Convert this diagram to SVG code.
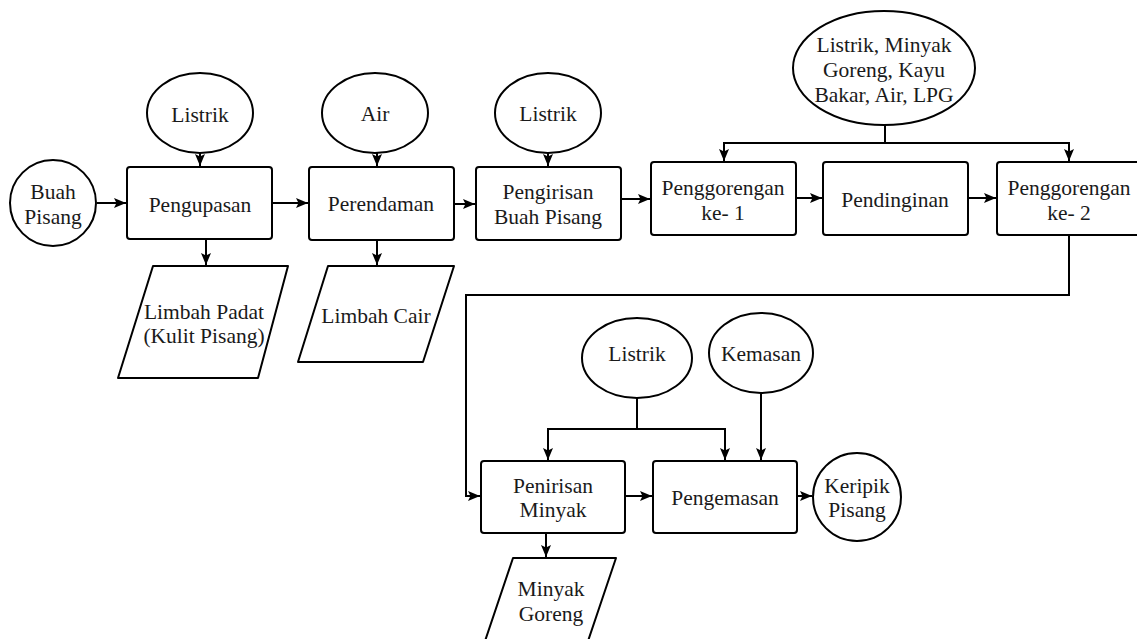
<svg xmlns="http://www.w3.org/2000/svg" width="1137" height="639" viewBox="0 0 1137 639" font-family="Liberation Serif, DejaVu Serif, serif">
<style>
.s{fill:#fff;stroke:#000;stroke-width:2;stroke-linejoin:round}
.t{font-size:21.5px;fill:#1a1a1a;text-anchor:middle}
.c{fill:none;stroke:#000;stroke-width:2}
</style>
<defs>
<marker id="ah" viewBox="0 0 12 10" refX="12" refY="5" markerWidth="12" markerHeight="10" markerUnits="userSpaceOnUse" orient="auto">
<path d="M0,0 L12,5 L0,10 L2.5,5 Z" fill="#000"/>
</marker>
</defs>
<rect width="1137" height="639" fill="#fff"/>
<g id="connectors">
<path class="c" d="M97,203 H126" marker-end="url(#ah)"/>
<path class="c" d="M272,203 H308" marker-end="url(#ah)"/>
<path class="c" d="M454,204 H475" marker-end="url(#ah)"/>
<path class="c" d="M621,199 H650" marker-end="url(#ah)"/>
<path class="c" d="M796,198 H822" marker-end="url(#ah)"/>
<path class="c" d="M968,198 H996" marker-end="url(#ah)"/>
<path class="c" d="M200,153 V166" marker-end="url(#ah)"/>
<path class="c" d="M377,153 V166" marker-end="url(#ah)"/>
<path class="c" d="M548,153 V166" marker-end="url(#ah)"/>
<path class="c" d="M206,239 V265" marker-end="url(#ah)"/>
<path class="c" d="M377,240 V265" marker-end="url(#ah)"/>
<path class="c" d="M885,125 V143"/>
<path class="c" d="M724,161 V143 H1069 V161" marker-end="url(#ah)"/>
<path class="c" d="M724,143 V161" marker-end="url(#ah)"/>
<path class="c" d="M1069,235 V295 H466 V496 H480" marker-end="url(#ah)"/>
<path class="c" d="M637,398 V429"/>
<path class="c" d="M548,460 V429 H725 V460" marker-end="url(#ah)"/>
<path class="c" d="M548,429 V460" marker-end="url(#ah)"/>
<path class="c" d="M761,393 V460" marker-end="url(#ah)"/>
<path class="c" d="M625,496 H652" marker-end="url(#ah)"/>
<path class="c" d="M797,496 H812" marker-end="url(#ah)"/>
<path class="c" d="M546,533 V557" marker-end="url(#ah)"/>
</g>
<g id="buah-pisang"><circle class="s" cx="53" cy="203" r="43"/><text class="t" x="53" y="199">Buah</text><text class="t" x="53" y="224">Pisang</text></g>
<g id="listrik-1"><ellipse class="s" cx="200" cy="113" rx="53" ry="40"/><text class="t" x="200" y="122">Listrik</text></g>
<g id="pengupasan"><rect class="s" x="127" y="167" width="145" height="72" rx="3"/><text class="t" x="200" y="212">Pengupasan</text></g>
<g id="limbah-padat"><path class="s" d="M153,266 L288,266 L258,378 L118,378 Z"/><text class="t" x="204" y="319">Limbah Padat</text><text class="t" x="204" y="343">(Kulit Pisang)</text></g>
<g id="air"><ellipse class="s" cx="375" cy="113" rx="53" ry="40"/><text class="t" x="375" y="121">Air</text></g>
<g id="perendaman"><rect class="s" x="309" y="167" width="145" height="73" rx="3"/><text class="t" x="381" y="211">Perendaman</text></g>
<g id="limbah-cair"><path class="s" d="M328,266 L454,266 L423,362 L298,362 Z"/><text class="t" x="376" y="323">Limbah Cair</text></g>
<g id="listrik-2"><ellipse class="s" cx="548" cy="113" rx="53" ry="40"/><text class="t" x="548" y="121">Listrik</text></g>
<g id="pengirisan"><rect class="s" x="476" y="167" width="145" height="73" rx="3"/><text class="t" x="548" y="199">Pengirisan</text><text class="t" x="548" y="224">Buah Pisang</text></g>
<g id="bahan-goreng"><ellipse class="s" cx="884" cy="68" rx="91" ry="57"/><text class="t" x="884" y="52">Listrik, Minyak</text><text class="t" x="884" y="77">Goreng, Kayu</text><text class="t" x="884" y="102">Bakar, Air, LPG</text></g>
<g id="penggorengan-1"><rect class="s" x="651" y="162" width="145" height="73" rx="3"/><text class="t" x="723" y="195">Penggorengan</text><text class="t" x="723" y="220">ke- 1</text></g>
<g id="pendinginan"><rect class="s" x="823" y="162" width="145" height="73" rx="3"/><text class="t" x="895" y="207">Pendinginan</text></g>
<g id="penggorengan-2"><rect class="s" x="997" y="162" width="145" height="73" rx="3"/><text class="t" x="1069" y="195">Penggorengan</text><text class="t" x="1069" y="220">ke- 2</text></g>
<g id="listrik-3"><ellipse class="s" cx="637" cy="358" rx="55" ry="40"/><text class="t" x="637" y="361">Listrik</text></g>
<g id="kemasan"><ellipse class="s" cx="761" cy="353" rx="52" ry="40"/><text class="t" x="761" y="361">Kemasan</text></g>
<g id="penirisan"><rect class="s" x="481" y="461" width="144" height="72" rx="3"/><text class="t" x="553" y="493">Penirisan</text><text class="t" x="553" y="517">Minyak</text></g>
<g id="pengemasan"><rect class="s" x="653" y="461" width="144" height="72" rx="3"/><text class="t" x="725" y="505">Pengemasan</text></g>
<g id="keripik"><circle class="s" cx="857" cy="497" r="44"/><text class="t" x="857" y="493">Keripik</text><text class="t" x="857" y="517">Pisang</text></g>
<g id="minyak-goreng"><path class="s" d="M513,558 L616,558 L585,650 L482,650 Z"/><text class="t" x="551" y="596">Minyak</text><text class="t" x="551" y="621">Goreng</text></g>
</svg>
